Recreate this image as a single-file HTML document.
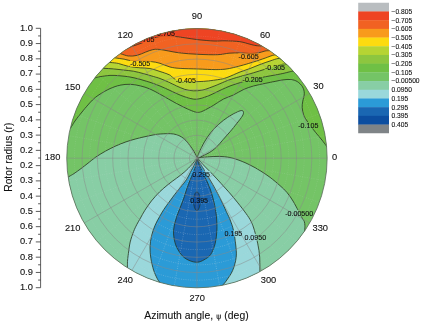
<!DOCTYPE html>
<html><head><meta charset="utf-8"><title>Rotor contour plot</title>
<style>html,body{margin:0;padding:0;background:#fff}body{width:421px;height:323px;overflow:hidden}</style></head>
<body>
<svg width="421" height="323" viewBox="0 0 421 323" style="display:block;font-family:'Liberation Sans',Arial,sans-serif" stroke-linejoin="round">
<rect width="421" height="323" fill="#fff"/>
<defs><clipPath id="disc"><ellipse cx="196.95" cy="158.20" rx="130.2" ry="129.6"/></clipPath></defs>
<g clip-path="url(#disc)">
<rect x="60" y="20" width="280" height="280" fill="#74c466"/>
<path d="M65.1 136.6C66.1 134.9 69.8 129.1 71.5 126.5C73.2 123.9 73.8 122.7 75.0 121.0C76.2 119.3 77.3 117.8 78.5 116.3C79.7 114.8 80.6 113.7 82.0 112.0C83.4 110.3 85.2 108.0 87.0 106.0C88.8 104.0 90.5 101.9 92.5 100.0C94.5 98.1 96.1 96.7 99.0 94.8C101.9 92.9 106.5 90.2 110.0 88.6C113.5 87.0 116.7 85.9 120.0 85.2C123.3 84.5 126.7 84.2 130.0 84.3C133.3 84.4 136.7 85.0 140.0 85.8C143.3 86.6 146.7 87.6 150.0 89.0C153.3 90.4 156.9 92.5 160.0 94.2C163.1 95.9 165.6 97.4 168.4 99.0C171.2 100.6 173.9 102.1 176.7 103.6C179.5 105.1 182.2 106.5 185.0 107.8C187.8 109.1 191.2 110.6 193.4 111.4C195.6 112.2 196.7 112.5 198.4 112.4C200.1 112.3 200.9 112.0 203.4 110.8C205.9 109.6 210.2 107.3 213.5 105.3C216.8 103.3 220.2 100.7 223.5 99.0C226.8 97.3 230.1 96.6 233.4 95.0C236.7 93.4 240.1 91.1 243.4 89.6C246.7 88.1 249.8 87.0 253.4 86.0C257.0 85.0 261.5 84.2 265.1 83.4C268.7 82.6 272.1 82.0 275.1 81.4C278.1 80.8 280.4 80.2 283.0 79.9C285.6 79.6 288.4 79.2 290.8 79.5C293.2 79.8 295.4 80.4 297.3 81.6C299.2 82.8 301.3 84.8 302.5 86.8C303.7 88.8 304.2 90.9 304.3 93.3C304.4 95.7 303.2 98.7 302.8 101.1C302.4 103.5 302.0 105.2 302.2 107.6C302.4 110.0 302.9 113.0 303.8 115.4C304.7 117.8 305.8 119.1 307.7 121.9C309.6 124.7 313.1 129.3 315.5 132.3C317.9 135.3 320.3 137.9 322.0 140.1C323.7 142.3 325.1 144.2 325.9 145.3C326.7 146.5 325.7 145.0 327.0 147.0C328.3 149.0 332.4 155.4 333.5 157.1L400.0 157.1 L 400 -40 L 0 -40 L 0.0 136.6 Z" fill="#6fc045" stroke="none"/>
<path d="M82.8 80.8C84.8 80.3 91.6 78.7 94.5 78.0C97.4 77.3 97.4 77.1 100.0 76.7C102.6 76.3 106.7 75.6 110.0 75.4C113.3 75.2 116.7 75.5 120.0 75.8C123.3 76.1 126.7 76.4 130.0 77.0C133.3 77.6 136.7 78.4 140.0 79.3C143.3 80.2 146.7 81.2 150.0 82.3C153.3 83.4 156.8 84.7 160.0 86.0C163.2 87.3 166.2 88.7 169.0 90.0C171.8 91.3 174.0 92.4 176.7 93.6C179.4 94.8 182.2 96.0 185.0 96.9C187.8 97.8 190.9 98.8 193.4 99.1C195.9 99.4 197.2 99.2 200.0 98.6C202.8 97.9 206.7 96.6 210.0 95.2C213.3 93.8 216.5 92.0 220.0 90.4C223.5 88.8 227.1 87.0 231.0 85.6C234.9 84.1 239.6 82.8 243.4 81.7C247.2 80.6 250.4 79.8 254.0 79.0C257.6 78.2 261.6 77.5 265.1 76.8C268.6 76.1 271.8 75.6 275.1 75.0C278.4 74.4 282.4 73.6 285.0 73.0C287.6 72.4 289.0 71.9 290.5 71.6C292.0 71.3 291.4 71.4 293.9 71.0C296.4 70.6 303.7 69.3 305.7 68.9L400.0 68.9 L 400 -40 L 0 -40 L 0.0 80.8 Z" fill="#8dc63f" stroke="none"/>
<path d="M91.6 67.6C93.6 67.7 100.0 68.1 103.6 68.3C107.2 68.5 110.1 68.6 113.4 68.9C116.7 69.2 120.1 69.6 123.4 70.0C126.7 70.4 130.1 70.6 133.4 71.2C136.7 71.8 140.1 72.7 143.4 73.6C146.8 74.5 150.7 75.7 153.5 76.5C156.3 77.3 157.5 77.6 160.0 78.5C162.5 79.4 165.6 80.8 168.4 82.0C171.2 83.2 173.9 84.8 176.7 86.0C179.5 87.2 182.2 88.6 185.0 89.4C187.8 90.2 190.6 90.7 193.4 90.8C196.2 90.9 199.0 90.7 201.8 90.2C204.6 89.7 207.0 88.8 210.0 87.7C213.0 86.6 216.7 85.1 220.0 83.7C223.3 82.3 226.1 80.9 230.0 79.6C233.9 78.2 239.5 76.7 243.4 75.6C247.3 74.5 249.8 73.9 253.4 72.8C257.0 71.7 261.5 70.3 265.1 69.2C268.7 68.1 272.0 67.1 275.0 66.3C278.0 65.5 281.0 64.5 283.0 64.2C285.0 63.9 284.3 64.2 287.0 64.3C289.7 64.4 297.0 64.5 299.0 64.6L400.0 64.6 L 400 -40 L 0 -40 L 0.0 67.6 Z" fill="#b6d433" stroke="none"/>
<path d="M98.1 60.9C100.1 61.1 106.6 62.0 110.0 62.4C113.4 62.8 115.4 62.8 118.5 63.5C121.6 64.2 124.9 65.7 128.5 66.4C132.1 67.1 136.3 67.5 139.9 67.8C143.5 68.1 146.6 67.9 149.9 68.5C153.2 69.1 156.7 70.4 160.0 71.5C163.3 72.6 166.8 73.5 169.6 74.9C172.4 76.3 172.3 78.6 177.0 79.7C181.7 80.8 191.2 81.6 198.0 81.6C204.8 81.6 212.8 80.4 217.6 79.7C222.4 79.0 223.3 78.8 227.0 77.5C230.7 76.2 236.2 73.5 240.0 72.0C243.8 70.5 246.7 69.8 250.0 68.5C253.3 67.2 256.7 65.8 260.0 64.5C263.3 63.2 267.0 62.0 270.0 61.0C273.0 60.0 276.0 58.8 278.0 58.5C280.0 58.2 279.4 58.8 282.0 59.5C284.6 60.2 291.7 61.9 293.6 62.4L400.0 62.4 L 400 -40 L 0 -40 L 0.0 60.9 Z" fill="#fddb10" stroke="none"/>
<path d="M102.8 56.1C104.8 56.3 111.1 57.3 114.7 57.8C118.3 58.3 121.2 58.7 124.2 59.2C127.2 59.8 129.8 60.8 132.8 61.1C135.8 61.5 138.9 61.2 142.0 61.3C145.1 61.4 148.3 61.3 151.3 61.6C154.3 61.9 156.9 62.4 160.0 63.3C163.1 64.2 166.7 66.2 170.0 67.0C173.3 67.8 175.3 68.1 180.0 68.4C184.7 68.7 192.6 68.8 198.4 69.0C204.2 69.2 210.7 69.6 215.1 69.6C219.5 69.6 221.9 69.5 225.0 69.2C228.1 68.9 230.3 68.3 233.4 67.6C236.5 66.9 240.1 65.9 243.4 65.0C246.7 64.1 249.8 63.1 253.4 62.0C257.0 60.9 261.7 59.3 265.1 58.1C268.5 56.9 271.9 55.4 274.0 55.0C276.1 54.6 275.2 55.3 277.8 56.0C280.4 56.7 287.5 58.5 289.4 59.1L400.0 59.1 L 400 -40 L 0 -40 L 0.0 56.1 Z" fill="#f89b1c" stroke="none"/>
<path d="M108.4 50.2C110.3 50.7 116.5 52.5 119.9 53.5C123.3 54.5 125.7 55.7 128.5 56.0C131.3 56.3 134.2 56.0 137.0 55.4C139.8 54.8 143.0 53.0 145.6 52.1C148.2 51.2 150.3 50.1 152.7 49.7C155.1 49.3 155.6 49.0 160.0 49.5C164.4 50.0 172.7 52.0 179.0 52.8C185.3 53.6 191.6 54.0 198.0 54.3C204.4 54.6 212.4 54.9 217.6 54.7C222.8 54.5 225.3 53.5 229.0 53.2C232.7 52.9 236.5 52.9 240.0 52.9C243.5 52.9 247.0 53.5 250.0 53.5C253.0 53.5 255.5 53.4 258.0 53.0C260.5 52.6 262.9 51.4 265.0 51.0C267.1 50.6 267.7 50.8 270.6 50.6C273.5 50.4 280.6 49.9 282.6 49.7L400.0 49.7 L 400 -40 L 0 -40 L 0.0 50.2 Z" fill="#f16222" stroke="none"/>
<path d="M116.4 52.9C118.3 52.2 124.8 49.4 127.5 48.3C130.2 47.2 130.8 46.8 132.5 46.2C134.2 45.6 135.7 45.2 137.4 44.6C139.2 44.0 141.1 43.2 143.0 42.5C144.9 41.8 146.8 41.0 148.6 40.3C150.4 39.5 152.3 38.6 154.0 38.0C155.7 37.4 157.0 36.9 159.0 36.6C161.0 36.3 163.4 36.0 166.0 36.0C168.6 36.0 171.2 36.1 174.4 36.4C177.6 36.7 181.1 37.2 185.0 37.8C188.9 38.3 193.2 39.2 198.0 39.7C202.8 40.2 209.5 40.8 214.0 41.0C218.5 41.2 220.7 40.7 225.0 40.8C229.3 40.9 235.8 41.1 240.0 41.7C244.2 42.3 247.3 43.6 250.0 44.2C252.7 44.9 254.1 45.3 256.0 45.6C257.9 45.9 258.5 45.8 261.4 46.0C264.3 46.2 271.4 46.7 273.4 46.9L400.0 46.9 L 400 -40 L 0 -40 L 0.0 52.9 Z" fill="#ee4423" stroke="none"/>
<path d="M58.3 182.9C60.0 181.9 66.0 178.4 68.6 176.8C71.2 175.2 71.9 175.0 74.0 173.6C76.1 172.2 78.7 170.3 81.0 168.6C83.3 166.9 85.5 165.1 88.0 163.2C90.5 161.3 92.9 159.1 95.9 157.0C98.9 154.9 102.6 152.8 105.9 150.9C109.2 149.1 112.6 147.4 115.9 145.9C119.2 144.4 122.6 143.1 125.9 141.9C129.2 140.7 132.8 139.7 135.8 138.9C138.8 138.1 141.3 137.5 144.0 136.9C146.7 136.3 149.3 135.7 152.0 135.2C154.7 134.7 156.6 134.2 160.2 134.0C163.8 133.8 169.7 133.3 173.6 134.0C177.5 134.7 180.5 136.0 183.6 138.4C186.7 140.8 189.7 145.2 192.0 148.4C194.3 151.6 196.3 156.1 197.2 157.6L197.6 157.8C199.2 157.7 203.9 157.1 207.5 156.9C211.1 156.7 215.2 156.3 219.0 156.4C222.8 156.5 226.5 156.8 230.0 157.5C233.5 158.2 236.7 159.3 240.0 160.6C243.3 161.8 246.7 163.3 250.0 165.0C253.3 166.7 256.7 168.5 260.0 170.6C263.3 172.7 266.7 174.8 270.0 177.3C273.3 179.8 277.2 183.1 280.0 185.6C282.8 188.1 284.8 189.9 287.0 192.5C289.2 195.1 291.1 197.9 293.0 201.0C294.9 204.1 296.9 208.1 298.4 210.9C299.9 213.7 301.0 216.0 302.0 217.8C303.0 219.6 303.8 220.2 304.3 221.5C304.8 222.8 304.8 224.0 304.9 225.6C305.0 227.2 304.8 228.1 304.7 231.0C304.6 233.9 304.3 241.0 304.3 243.0L 420 243.0 L 420 340 L -20 340 L -20 182.9 Z" fill="#88cea5" stroke="none"/>
<path d="M197.4 157.8C197.2 156.4 199.8 150.9 201.5 147.4C203.2 143.9 205.4 140.1 207.6 136.9C209.8 133.7 211.9 131.0 214.5 128.3C217.1 125.6 220.3 122.8 223.2 120.5C226.1 118.2 229.3 116.2 231.9 114.7C234.5 113.2 237.1 112.0 238.8 111.3C240.5 110.6 241.5 110.4 242.3 110.6C243.1 110.8 243.5 111.6 243.5 112.5C243.5 113.4 243.4 114.3 242.3 116.1C241.2 117.9 239.1 120.5 237.1 123.1C235.1 125.7 232.4 129.0 230.1 131.7C227.8 134.4 225.5 136.9 223.2 139.5C220.9 142.1 218.6 145.1 216.3 147.3C214.0 149.5 211.6 151.2 209.3 152.6C207.0 154.0 204.4 155.1 202.4 156.0C200.4 156.9 197.6 159.2 197.4 157.8Z" fill="#88cea5" stroke="none"/>
<path d="M127.1 279.0C127.1 277.0 127.3 270.2 127.4 267.0C127.5 263.8 127.4 262.2 127.6 260.0C127.8 257.8 128.0 256.5 128.4 253.5C128.8 250.5 129.3 245.7 130.2 242.0C131.1 238.3 132.5 234.4 133.6 231.5C134.7 228.6 135.7 226.8 136.8 224.5C138.0 222.2 139.2 220.3 140.5 218.0C141.8 215.7 142.9 213.4 144.7 210.6C146.5 207.8 148.9 204.1 151.4 201.0C153.9 197.9 156.9 194.6 159.7 191.8C162.5 189.1 165.3 186.8 168.1 184.5C170.9 182.2 173.6 180.4 176.4 178.3C179.2 176.2 182.3 173.9 184.8 171.7C187.3 169.5 189.6 167.1 191.5 165.0C193.4 162.9 195.1 160.5 196.0 159.4C196.9 158.3 197.0 158.4 197.2 158.2L197.6 158.2C197.9 158.5 198.1 158.9 199.2 160.2C200.3 161.5 202.2 163.6 204.4 166.0C206.7 168.4 209.9 171.5 212.7 174.4C215.5 177.3 218.3 180.4 221.1 183.5C223.9 186.6 226.6 189.5 229.4 192.7C232.2 195.9 235.0 199.3 237.8 202.8C240.6 206.3 243.9 210.5 246.1 213.6C248.3 216.7 249.7 218.7 251.1 221.5C252.5 224.3 253.4 226.9 254.5 230.6C255.6 234.3 256.9 239.5 257.8 243.9C258.7 248.3 259.4 252.6 259.7 257.2C260.0 261.8 259.8 267.1 259.9 271.5C260.0 275.9 260.0 281.5 260.1 283.5L 420 283.5 L 420 340 L -20 340 L -20 279.0 Z" fill="#9ad8db" stroke="none"/>
<path d="M165.6 292.1C164.6 290.4 160.7 284.2 159.3 281.9C157.9 279.6 158.1 280.5 157.2 278.5C156.2 276.5 154.6 273.4 153.6 270.1C152.6 266.8 151.5 262.4 150.9 258.6C150.3 254.8 149.9 250.9 150.0 247.1C150.1 243.3 150.7 239.6 151.5 236.0C152.3 232.4 153.7 228.7 155.0 225.5C156.3 222.3 158.0 219.5 159.5 216.8C161.0 214.1 162.4 211.6 164.0 209.2C165.6 206.8 167.2 204.6 169.0 202.2C170.8 199.8 172.6 197.2 174.5 194.7C176.4 192.2 178.4 189.8 180.5 187.2C182.6 184.6 185.1 181.9 186.8 179.2C188.6 176.5 189.7 173.4 191.0 171.0C192.3 168.6 193.5 166.6 194.5 164.5C195.5 162.4 196.8 159.4 197.2 158.4L197.6 158.4C197.8 158.9 197.8 159.7 198.8 161.5C199.8 163.3 202.1 166.6 203.6 169.0C205.1 171.4 206.2 173.4 207.7 176.0C209.2 178.6 211.0 181.5 212.7 184.4C214.4 187.3 216.0 190.4 217.7 193.6C219.4 196.8 221.2 200.4 222.7 203.6C224.2 206.8 225.7 210.1 226.9 212.8C228.2 215.5 229.1 217.1 230.2 220.0C231.3 222.9 232.5 226.0 233.4 230.0C234.3 234.0 235.1 239.4 235.6 243.9C236.1 248.4 236.7 252.8 236.2 257.2C235.7 261.6 234.3 266.6 232.6 270.6C230.9 274.6 227.8 278.6 226.0 281.2C224.2 283.8 223.5 284.1 221.5 286.5C219.5 288.9 215.0 294.1 213.7 295.6L 420 295.6 L 420 340 L -20 340 L -20 292.1 Z" fill="#2b9bd7" stroke="none"/>
<path d="M197.3 159.5C196.9 159.5 196.8 162.2 196.3 164.0C195.8 165.8 195.0 168.1 194.3 170.0C193.6 171.9 192.7 173.8 192.0 175.5C191.3 177.2 190.8 178.3 189.9 180.5C189.1 182.7 187.8 185.7 186.9 188.4C186.0 191.1 185.2 193.9 184.3 196.7C183.4 199.5 182.3 202.2 181.2 205.0C180.1 207.8 178.9 210.6 177.9 213.4C176.9 216.2 175.9 219.0 175.2 221.8C174.5 224.6 173.8 227.3 173.6 230.0C173.4 232.7 173.5 235.2 174.0 238.0C174.5 240.8 175.2 244.1 176.6 247.1C178.0 250.1 180.3 253.7 182.5 256.0C184.7 258.3 187.5 259.8 190.0 260.8C192.5 261.8 195.2 262.4 197.5 262.2C199.8 262.0 201.8 261.1 204.0 259.8C206.2 258.5 208.7 257.3 210.6 254.6C212.5 251.9 214.1 247.6 215.2 243.5C216.2 239.4 216.7 234.4 216.9 230.0C217.1 225.6 216.8 220.8 216.5 217.0C216.2 213.2 215.6 210.2 215.0 207.0C214.4 203.8 213.6 200.6 212.8 197.5C212.0 194.4 211.0 191.2 210.0 188.4C209.0 185.6 207.6 182.7 206.6 180.5C205.6 178.3 204.8 177.2 204.0 175.5C203.2 173.8 202.3 171.9 201.5 170.0C200.7 168.1 199.7 165.8 199.0 164.0C198.3 162.2 197.8 159.5 197.3 159.5Z" fill="#1a67b2" stroke="none"/>
<path d="M196.9 192.0C197.5 192.0 198.1 192.4 198.6 193.2C199.1 194.0 199.5 195.3 199.8 196.6C200.1 197.9 200.2 199.7 200.2 201.2C200.2 202.7 200.1 204.5 199.8 205.8C199.5 207.1 199.1 208.4 198.6 209.2C198.1 210.0 197.5 210.4 196.9 210.4C196.3 210.4 195.7 210.0 195.2 209.2C194.7 208.4 194.3 207.1 194.0 205.8C193.7 204.5 193.6 202.7 193.6 201.2C193.6 199.7 193.7 197.9 194.0 196.6C194.3 195.3 194.7 194.0 195.2 193.2C195.7 192.4 196.3 192.0 196.9 192.0Z" fill="#0c4ea0" stroke="none"/>
<mask id="lm" maskUnits="userSpaceOnUse" x="0" y="0" width="421" height="323"><rect width="421" height="323" fill="#fff"/>
<rect x="154.4" y="30.4" width="20.7" height="6.4" fill="#000"/>
<rect x="133.9" y="36.6" width="20.7" height="6.4" fill="#000"/>
<rect x="238.2" y="53.4" width="20.7" height="6.4" fill="#000"/>
<rect x="129.8" y="60.3" width="20.7" height="6.4" fill="#000"/>
<rect x="175.4" y="77.0" width="20.7" height="6.4" fill="#000"/>
<rect x="264.6" y="64.5" width="20.7" height="6.4" fill="#000"/>
<rect x="242.2" y="76.0" width="20.7" height="6.4" fill="#000"/>
<rect x="297.9" y="122.1" width="20.7" height="6.4" fill="#000"/>
<rect x="284.9" y="209.9" width="28.6" height="6.4" fill="#000"/>
<rect x="244.1" y="234.1" width="22.3" height="6.4" fill="#000"/>
<rect x="224.2" y="230.3" width="18.4" height="6.4" fill="#000"/>
<rect x="192.0" y="170.8" width="18.4" height="6.4" fill="#000"/>
<rect x="190.0" y="197.4" width="18.4" height="6.4" fill="#000"/>
</mask>
<g mask="url(#lm)">
<path d="M65.1 136.6C66.1 134.9 69.8 129.1 71.5 126.5C73.2 123.9 73.8 122.7 75.0 121.0C76.2 119.3 77.3 117.8 78.5 116.3C79.7 114.8 80.6 113.7 82.0 112.0C83.4 110.3 85.2 108.0 87.0 106.0C88.8 104.0 90.5 101.9 92.5 100.0C94.5 98.1 96.1 96.7 99.0 94.8C101.9 92.9 106.5 90.2 110.0 88.6C113.5 87.0 116.7 85.9 120.0 85.2C123.3 84.5 126.7 84.2 130.0 84.3C133.3 84.4 136.7 85.0 140.0 85.8C143.3 86.6 146.7 87.6 150.0 89.0C153.3 90.4 156.9 92.5 160.0 94.2C163.1 95.9 165.6 97.4 168.4 99.0C171.2 100.6 173.9 102.1 176.7 103.6C179.5 105.1 182.2 106.5 185.0 107.8C187.8 109.1 191.2 110.6 193.4 111.4C195.6 112.2 196.7 112.5 198.4 112.4C200.1 112.3 200.9 112.0 203.4 110.8C205.9 109.6 210.2 107.3 213.5 105.3C216.8 103.3 220.2 100.7 223.5 99.0C226.8 97.3 230.1 96.6 233.4 95.0C236.7 93.4 240.1 91.1 243.4 89.6C246.7 88.1 249.8 87.0 253.4 86.0C257.0 85.0 261.5 84.2 265.1 83.4C268.7 82.6 272.1 82.0 275.1 81.4C278.1 80.8 280.4 80.2 283.0 79.9C285.6 79.6 288.4 79.2 290.8 79.5C293.2 79.8 295.4 80.4 297.3 81.6C299.2 82.8 301.3 84.8 302.5 86.8C303.7 88.8 304.2 90.9 304.3 93.3C304.4 95.7 303.2 98.7 302.8 101.1C302.4 103.5 302.0 105.2 302.2 107.6C302.4 110.0 302.9 113.0 303.8 115.4C304.7 117.8 305.8 119.1 307.7 121.9C309.6 124.7 313.1 129.3 315.5 132.3C317.9 135.3 320.3 137.9 322.0 140.1C323.7 142.3 325.1 144.2 325.9 145.3C326.7 146.5 325.7 145.0 327.0 147.0C328.3 149.0 332.4 155.4 333.5 157.1" fill="none" stroke="#27331f" stroke-width="0.80"/>
<path d="M82.8 80.8C84.8 80.3 91.6 78.7 94.5 78.0C97.4 77.3 97.4 77.1 100.0 76.7C102.6 76.3 106.7 75.6 110.0 75.4C113.3 75.2 116.7 75.5 120.0 75.8C123.3 76.1 126.7 76.4 130.0 77.0C133.3 77.6 136.7 78.4 140.0 79.3C143.3 80.2 146.7 81.2 150.0 82.3C153.3 83.4 156.8 84.7 160.0 86.0C163.2 87.3 166.2 88.7 169.0 90.0C171.8 91.3 174.0 92.4 176.7 93.6C179.4 94.8 182.2 96.0 185.0 96.9C187.8 97.8 190.9 98.8 193.4 99.1C195.9 99.4 197.2 99.2 200.0 98.6C202.8 97.9 206.7 96.6 210.0 95.2C213.3 93.8 216.5 92.0 220.0 90.4C223.5 88.8 227.1 87.0 231.0 85.6C234.9 84.1 239.6 82.8 243.4 81.7C247.2 80.6 250.4 79.8 254.0 79.0C257.6 78.2 261.6 77.5 265.1 76.8C268.6 76.1 271.8 75.6 275.1 75.0C278.4 74.4 282.4 73.6 285.0 73.0C287.6 72.4 289.0 71.9 290.5 71.6C292.0 71.3 291.4 71.4 293.9 71.0C296.4 70.6 303.7 69.3 305.7 68.9" fill="none" stroke="#27331f" stroke-width="0.80"/>
<path d="M91.6 67.6C93.6 67.7 100.0 68.1 103.6 68.3C107.2 68.5 110.1 68.6 113.4 68.9C116.7 69.2 120.1 69.6 123.4 70.0C126.7 70.4 130.1 70.6 133.4 71.2C136.7 71.8 140.1 72.7 143.4 73.6C146.8 74.5 150.7 75.7 153.5 76.5C156.3 77.3 157.5 77.6 160.0 78.5C162.5 79.4 165.6 80.8 168.4 82.0C171.2 83.2 173.9 84.8 176.7 86.0C179.5 87.2 182.2 88.6 185.0 89.4C187.8 90.2 190.6 90.7 193.4 90.8C196.2 90.9 199.0 90.7 201.8 90.2C204.6 89.7 207.0 88.8 210.0 87.7C213.0 86.6 216.7 85.1 220.0 83.7C223.3 82.3 226.1 80.9 230.0 79.6C233.9 78.2 239.5 76.7 243.4 75.6C247.3 74.5 249.8 73.9 253.4 72.8C257.0 71.7 261.5 70.3 265.1 69.2C268.7 68.1 272.0 67.1 275.0 66.3C278.0 65.5 281.0 64.5 283.0 64.2C285.0 63.9 284.3 64.2 287.0 64.3C289.7 64.4 297.0 64.5 299.0 64.6" fill="none" stroke="#27331f" stroke-width="0.80"/>
<path d="M98.1 60.9C100.1 61.1 106.6 62.0 110.0 62.4C113.4 62.8 115.4 62.8 118.5 63.5C121.6 64.2 124.9 65.7 128.5 66.4C132.1 67.1 136.3 67.5 139.9 67.8C143.5 68.1 146.6 67.9 149.9 68.5C153.2 69.1 156.7 70.4 160.0 71.5C163.3 72.6 166.8 73.5 169.6 74.9C172.4 76.3 172.3 78.6 177.0 79.7C181.7 80.8 191.2 81.6 198.0 81.6C204.8 81.6 212.8 80.4 217.6 79.7C222.4 79.0 223.3 78.8 227.0 77.5C230.7 76.2 236.2 73.5 240.0 72.0C243.8 70.5 246.7 69.8 250.0 68.5C253.3 67.2 256.7 65.8 260.0 64.5C263.3 63.2 267.0 62.0 270.0 61.0C273.0 60.0 276.0 58.8 278.0 58.5C280.0 58.2 279.4 58.8 282.0 59.5C284.6 60.2 291.7 61.9 293.6 62.4" fill="none" stroke="#27331f" stroke-width="0.80"/>
<path d="M102.8 56.1C104.8 56.3 111.1 57.3 114.7 57.8C118.3 58.3 121.2 58.7 124.2 59.2C127.2 59.8 129.8 60.8 132.8 61.1C135.8 61.5 138.9 61.2 142.0 61.3C145.1 61.4 148.3 61.3 151.3 61.6C154.3 61.9 156.9 62.4 160.0 63.3C163.1 64.2 166.7 66.2 170.0 67.0C173.3 67.8 175.3 68.1 180.0 68.4C184.7 68.7 192.6 68.8 198.4 69.0C204.2 69.2 210.7 69.6 215.1 69.6C219.5 69.6 221.9 69.5 225.0 69.2C228.1 68.9 230.3 68.3 233.4 67.6C236.5 66.9 240.1 65.9 243.4 65.0C246.7 64.1 249.8 63.1 253.4 62.0C257.0 60.9 261.7 59.3 265.1 58.1C268.5 56.9 271.9 55.4 274.0 55.0C276.1 54.6 275.2 55.3 277.8 56.0C280.4 56.7 287.5 58.5 289.4 59.1" fill="none" stroke="#27331f" stroke-width="0.80"/>
<path d="M108.4 50.2C110.3 50.7 116.5 52.5 119.9 53.5C123.3 54.5 125.7 55.7 128.5 56.0C131.3 56.3 134.2 56.0 137.0 55.4C139.8 54.8 143.0 53.0 145.6 52.1C148.2 51.2 150.3 50.1 152.7 49.7C155.1 49.3 155.6 49.0 160.0 49.5C164.4 50.0 172.7 52.0 179.0 52.8C185.3 53.6 191.6 54.0 198.0 54.3C204.4 54.6 212.4 54.9 217.6 54.7C222.8 54.5 225.3 53.5 229.0 53.2C232.7 52.9 236.5 52.9 240.0 52.9C243.5 52.9 247.0 53.5 250.0 53.5C253.0 53.5 255.5 53.4 258.0 53.0C260.5 52.6 262.9 51.4 265.0 51.0C267.1 50.6 267.7 50.8 270.6 50.6C273.5 50.4 280.6 49.9 282.6 49.7" fill="none" stroke="#27331f" stroke-width="0.80"/>
<path d="M116.4 52.9C118.3 52.2 124.8 49.4 127.5 48.3C130.2 47.2 130.8 46.8 132.5 46.2C134.2 45.6 135.7 45.2 137.4 44.6C139.2 44.0 141.1 43.2 143.0 42.5C144.9 41.8 146.8 41.0 148.6 40.3C150.4 39.5 152.3 38.6 154.0 38.0C155.7 37.4 157.0 36.9 159.0 36.6C161.0 36.3 163.4 36.0 166.0 36.0C168.6 36.0 171.2 36.1 174.4 36.4C177.6 36.7 181.1 37.2 185.0 37.8C188.9 38.3 193.2 39.2 198.0 39.7C202.8 40.2 209.5 40.8 214.0 41.0C218.5 41.2 220.7 40.7 225.0 40.8C229.3 40.9 235.8 41.1 240.0 41.7C244.2 42.3 247.3 43.6 250.0 44.2C252.7 44.9 254.1 45.3 256.0 45.6C257.9 45.9 258.5 45.8 261.4 46.0C264.3 46.2 271.4 46.7 273.4 46.9" fill="none" stroke="#27331f" stroke-width="0.80"/>
<path d="M58.3 182.9C60.0 181.9 66.0 178.4 68.6 176.8C71.2 175.2 71.9 175.0 74.0 173.6C76.1 172.2 78.7 170.3 81.0 168.6C83.3 166.9 85.5 165.1 88.0 163.2C90.5 161.3 92.9 159.1 95.9 157.0C98.9 154.9 102.6 152.8 105.9 150.9C109.2 149.1 112.6 147.4 115.9 145.9C119.2 144.4 122.6 143.1 125.9 141.9C129.2 140.7 132.8 139.7 135.8 138.9C138.8 138.1 141.3 137.5 144.0 136.9C146.7 136.3 149.3 135.7 152.0 135.2C154.7 134.7 156.6 134.2 160.2 134.0C163.8 133.8 169.7 133.3 173.6 134.0C177.5 134.7 180.5 136.0 183.6 138.4C186.7 140.8 189.7 145.2 192.0 148.4C194.3 151.6 196.3 156.1 197.2 157.6 L197.6 157.8 C199.2 157.7 203.9 157.1 207.5 156.9C211.1 156.7 215.2 156.3 219.0 156.4C222.8 156.5 226.5 156.8 230.0 157.5C233.5 158.2 236.7 159.3 240.0 160.6C243.3 161.8 246.7 163.3 250.0 165.0C253.3 166.7 256.7 168.5 260.0 170.6C263.3 172.7 266.7 174.8 270.0 177.3C273.3 179.8 277.2 183.1 280.0 185.6C282.8 188.1 284.8 189.9 287.0 192.5C289.2 195.1 291.1 197.9 293.0 201.0C294.9 204.1 296.9 208.1 298.4 210.9C299.9 213.7 301.0 216.0 302.0 217.8C303.0 219.6 303.8 220.2 304.3 221.5C304.8 222.8 304.8 224.0 304.9 225.6C305.0 227.2 304.8 228.1 304.7 231.0C304.6 233.9 304.3 241.0 304.3 243.0" fill="none" stroke="#27331f" stroke-width="0.80"/>
<path d="M197.4 157.8C197.2 156.4 199.8 150.9 201.5 147.4C203.2 143.9 205.4 140.1 207.6 136.9C209.8 133.7 211.9 131.0 214.5 128.3C217.1 125.6 220.3 122.8 223.2 120.5C226.1 118.2 229.3 116.2 231.9 114.7C234.5 113.2 237.1 112.0 238.8 111.3C240.5 110.6 241.5 110.4 242.3 110.6C243.1 110.8 243.5 111.6 243.5 112.5C243.5 113.4 243.4 114.3 242.3 116.1C241.2 117.9 239.1 120.5 237.1 123.1C235.1 125.7 232.4 129.0 230.1 131.7C227.8 134.4 225.5 136.9 223.2 139.5C220.9 142.1 218.6 145.1 216.3 147.3C214.0 149.5 211.6 151.2 209.3 152.6C207.0 154.0 204.4 155.1 202.4 156.0C200.4 156.9 197.6 159.2 197.4 157.8Z" fill="none" stroke="#27331f" stroke-width="0.80"/>
<path d="M127.1 279.0C127.1 277.0 127.3 270.2 127.4 267.0C127.5 263.8 127.4 262.2 127.6 260.0C127.8 257.8 128.0 256.5 128.4 253.5C128.8 250.5 129.3 245.7 130.2 242.0C131.1 238.3 132.5 234.4 133.6 231.5C134.7 228.6 135.7 226.8 136.8 224.5C138.0 222.2 139.2 220.3 140.5 218.0C141.8 215.7 142.9 213.4 144.7 210.6C146.5 207.8 148.9 204.1 151.4 201.0C153.9 197.9 156.9 194.6 159.7 191.8C162.5 189.1 165.3 186.8 168.1 184.5C170.9 182.2 173.6 180.4 176.4 178.3C179.2 176.2 182.3 173.9 184.8 171.7C187.3 169.5 189.6 167.1 191.5 165.0C193.4 162.9 195.1 160.5 196.0 159.4C196.9 158.3 197.0 158.4 197.2 158.2 L197.6 158.2 C197.9 158.5 198.1 158.9 199.2 160.2C200.3 161.5 202.2 163.6 204.4 166.0C206.7 168.4 209.9 171.5 212.7 174.4C215.5 177.3 218.3 180.4 221.1 183.5C223.9 186.6 226.6 189.5 229.4 192.7C232.2 195.9 235.0 199.3 237.8 202.8C240.6 206.3 243.9 210.5 246.1 213.6C248.3 216.7 249.7 218.7 251.1 221.5C252.5 224.3 253.4 226.9 254.5 230.6C255.6 234.3 256.9 239.5 257.8 243.9C258.7 248.3 259.4 252.6 259.7 257.2C260.0 261.8 259.8 267.1 259.9 271.5C260.0 275.9 260.0 281.5 260.1 283.5" fill="none" stroke="#27331f" stroke-width="0.80"/>
<path d="M165.6 292.1C164.6 290.4 160.7 284.2 159.3 281.9C157.9 279.6 158.1 280.5 157.2 278.5C156.2 276.5 154.6 273.4 153.6 270.1C152.6 266.8 151.5 262.4 150.9 258.6C150.3 254.8 149.9 250.9 150.0 247.1C150.1 243.3 150.7 239.6 151.5 236.0C152.3 232.4 153.7 228.7 155.0 225.5C156.3 222.3 158.0 219.5 159.5 216.8C161.0 214.1 162.4 211.6 164.0 209.2C165.6 206.8 167.2 204.6 169.0 202.2C170.8 199.8 172.6 197.2 174.5 194.7C176.4 192.2 178.4 189.8 180.5 187.2C182.6 184.6 185.1 181.9 186.8 179.2C188.6 176.5 189.7 173.4 191.0 171.0C192.3 168.6 193.5 166.6 194.5 164.5C195.5 162.4 196.8 159.4 197.2 158.4 L197.6 158.4 C197.8 158.9 197.8 159.7 198.8 161.5C199.8 163.3 202.1 166.6 203.6 169.0C205.1 171.4 206.2 173.4 207.7 176.0C209.2 178.6 211.0 181.5 212.7 184.4C214.4 187.3 216.0 190.4 217.7 193.6C219.4 196.8 221.2 200.4 222.7 203.6C224.2 206.8 225.7 210.1 226.9 212.8C228.2 215.5 229.1 217.1 230.2 220.0C231.3 222.9 232.5 226.0 233.4 230.0C234.3 234.0 235.1 239.4 235.6 243.9C236.1 248.4 236.7 252.8 236.2 257.2C235.7 261.6 234.3 266.6 232.6 270.6C230.9 274.6 227.8 278.6 226.0 281.2C224.2 283.8 223.5 284.1 221.5 286.5C219.5 288.9 215.0 294.1 213.7 295.6" fill="none" stroke="#27331f" stroke-width="0.80"/>
<path d="M197.3 159.5C196.9 159.5 196.8 162.2 196.3 164.0C195.8 165.8 195.0 168.1 194.3 170.0C193.6 171.9 192.7 173.8 192.0 175.5C191.3 177.2 190.8 178.3 189.9 180.5C189.1 182.7 187.8 185.7 186.9 188.4C186.0 191.1 185.2 193.9 184.3 196.7C183.4 199.5 182.3 202.2 181.2 205.0C180.1 207.8 178.9 210.6 177.9 213.4C176.9 216.2 175.9 219.0 175.2 221.8C174.5 224.6 173.8 227.3 173.6 230.0C173.4 232.7 173.5 235.2 174.0 238.0C174.5 240.8 175.2 244.1 176.6 247.1C178.0 250.1 180.3 253.7 182.5 256.0C184.7 258.3 187.5 259.8 190.0 260.8C192.5 261.8 195.2 262.4 197.5 262.2C199.8 262.0 201.8 261.1 204.0 259.8C206.2 258.5 208.7 257.3 210.6 254.6C212.5 251.9 214.1 247.6 215.2 243.5C216.2 239.4 216.7 234.4 216.9 230.0C217.1 225.6 216.8 220.8 216.5 217.0C216.2 213.2 215.6 210.2 215.0 207.0C214.4 203.8 213.6 200.6 212.8 197.5C212.0 194.4 211.0 191.2 210.0 188.4C209.0 185.6 207.6 182.7 206.6 180.5C205.6 178.3 204.8 177.2 204.0 175.5C203.2 173.8 202.3 171.9 201.5 170.0C200.7 168.1 199.7 165.8 199.0 164.0C198.3 162.2 197.8 159.5 197.3 159.5Z" fill="none" stroke="#27331f" stroke-width="0.80"/>
<path d="M196.9 192.0C197.5 192.0 198.1 192.4 198.6 193.2C199.1 194.0 199.5 195.3 199.8 196.6C200.1 197.9 200.2 199.7 200.2 201.2C200.2 202.7 200.1 204.5 199.8 205.8C199.5 207.1 199.1 208.4 198.6 209.2C198.1 210.0 197.5 210.4 196.9 210.4C196.3 210.4 195.7 210.0 195.2 209.2C194.7 208.4 194.3 207.1 194.0 205.8C193.7 204.5 193.6 202.7 193.6 201.2C193.6 199.7 193.7 197.9 194.0 196.6C194.3 195.3 194.7 194.0 195.2 193.2C195.7 192.4 196.3 192.0 196.9 192.0Z" fill="none" stroke="#27331f" stroke-width="0.60"/>
</g>
<ellipse cx="196.95" cy="158.20" rx="15.32" ry="15.25" fill="none" stroke="#e4ecf2" stroke-width="0.5" stroke-dasharray="1 1.3" opacity="0.25"/>
<ellipse cx="196.95" cy="158.20" rx="30.64" ry="30.49" fill="none" stroke="#e4ecf2" stroke-width="0.5" stroke-dasharray="1 1.3" opacity="0.25"/>
<ellipse cx="196.95" cy="158.20" rx="45.95" ry="45.74" fill="none" stroke="#e4ecf2" stroke-width="0.5" stroke-dasharray="1 1.3" opacity="0.25"/>
<ellipse cx="196.95" cy="158.20" rx="61.27" ry="60.99" fill="none" stroke="#e4ecf2" stroke-width="0.5" stroke-dasharray="1 1.3" opacity="0.25"/>
<ellipse cx="196.95" cy="158.20" rx="76.59" ry="76.24" fill="none" stroke="#e4ecf2" stroke-width="0.5" stroke-dasharray="1 1.3" opacity="0.25"/>
<ellipse cx="196.95" cy="158.20" rx="91.91" ry="91.48" fill="none" stroke="#e4ecf2" stroke-width="0.5" stroke-dasharray="1 1.3" opacity="0.25"/>
<ellipse cx="196.95" cy="158.20" rx="107.22" ry="106.73" fill="none" stroke="#e4ecf2" stroke-width="0.5" stroke-dasharray="1 1.3" opacity="0.25"/>
<ellipse cx="196.95" cy="158.20" rx="122.54" ry="121.98" fill="none" stroke="#e4ecf2" stroke-width="0.5" stroke-dasharray="1 1.3" opacity="0.25"/>
<line x1="204.8" y1="156.8" x2="325.17" y2="135.70" stroke="#e4ecf2" stroke-width="0.5" stroke-dasharray="1 1.3" opacity="0.25"/>
<line x1="204.5" y1="155.5" x2="319.30" y2="113.87" stroke="#e4ecf2" stroke-width="0.5" stroke-dasharray="1 1.3" opacity="0.25"/>
<line x1="203.1" y1="153.1" x2="296.69" y2="74.89" stroke="#e4ecf2" stroke-width="0.5" stroke-dasharray="1 1.3" opacity="0.25"/>
<line x1="202.1" y1="152.1" x2="280.64" y2="58.92" stroke="#e4ecf2" stroke-width="0.5" stroke-dasharray="1 1.3" opacity="0.25"/>
<line x1="199.7" y1="150.7" x2="241.48" y2="36.42" stroke="#e4ecf2" stroke-width="0.5" stroke-dasharray="1 1.3" opacity="0.25"/>
<line x1="198.3" y1="150.3" x2="219.56" y2="30.57" stroke="#e4ecf2" stroke-width="0.5" stroke-dasharray="1 1.3" opacity="0.25"/>
<line x1="195.6" y1="150.3" x2="174.34" y2="30.57" stroke="#e4ecf2" stroke-width="0.5" stroke-dasharray="1 1.3" opacity="0.25"/>
<line x1="194.2" y1="150.7" x2="152.42" y2="36.42" stroke="#e4ecf2" stroke-width="0.5" stroke-dasharray="1 1.3" opacity="0.25"/>
<line x1="191.8" y1="152.1" x2="113.26" y2="58.92" stroke="#e4ecf2" stroke-width="0.5" stroke-dasharray="1 1.3" opacity="0.25"/>
<line x1="190.8" y1="153.1" x2="97.21" y2="74.89" stroke="#e4ecf2" stroke-width="0.5" stroke-dasharray="1 1.3" opacity="0.25"/>
<line x1="189.4" y1="155.5" x2="74.60" y2="113.87" stroke="#e4ecf2" stroke-width="0.5" stroke-dasharray="1 1.3" opacity="0.25"/>
<line x1="189.1" y1="156.8" x2="68.73" y2="135.70" stroke="#e4ecf2" stroke-width="0.5" stroke-dasharray="1 1.3" opacity="0.25"/>
<line x1="189.1" y1="159.6" x2="68.73" y2="180.70" stroke="#e4ecf2" stroke-width="0.5" stroke-dasharray="1 1.3" opacity="0.25"/>
<line x1="189.4" y1="160.9" x2="74.60" y2="202.53" stroke="#e4ecf2" stroke-width="0.5" stroke-dasharray="1 1.3" opacity="0.25"/>
<line x1="190.8" y1="163.3" x2="97.21" y2="241.51" stroke="#e4ecf2" stroke-width="0.5" stroke-dasharray="1 1.3" opacity="0.25"/>
<line x1="191.8" y1="164.3" x2="113.26" y2="257.48" stroke="#e4ecf2" stroke-width="0.5" stroke-dasharray="1 1.3" opacity="0.25"/>
<line x1="194.2" y1="165.7" x2="152.42" y2="279.98" stroke="#e4ecf2" stroke-width="0.5" stroke-dasharray="1 1.3" opacity="0.25"/>
<line x1="195.6" y1="166.1" x2="174.34" y2="285.83" stroke="#e4ecf2" stroke-width="0.5" stroke-dasharray="1 1.3" opacity="0.25"/>
<line x1="198.3" y1="166.1" x2="219.56" y2="285.83" stroke="#e4ecf2" stroke-width="0.5" stroke-dasharray="1 1.3" opacity="0.25"/>
<line x1="199.7" y1="165.7" x2="241.48" y2="279.98" stroke="#e4ecf2" stroke-width="0.5" stroke-dasharray="1 1.3" opacity="0.25"/>
<line x1="202.1" y1="164.3" x2="280.64" y2="257.48" stroke="#e4ecf2" stroke-width="0.5" stroke-dasharray="1 1.3" opacity="0.25"/>
<line x1="203.1" y1="163.3" x2="296.69" y2="241.51" stroke="#e4ecf2" stroke-width="0.5" stroke-dasharray="1 1.3" opacity="0.25"/>
<line x1="204.5" y1="160.9" x2="319.30" y2="202.53" stroke="#e4ecf2" stroke-width="0.5" stroke-dasharray="1 1.3" opacity="0.25"/>
<line x1="204.8" y1="159.6" x2="325.17" y2="180.70" stroke="#e4ecf2" stroke-width="0.5" stroke-dasharray="1 1.3" opacity="0.25"/>
<clipPath id="bluec"><path d="M165.6 292.1C164.6 290.4 160.7 284.2 159.3 281.9C157.9 279.6 158.1 280.5 157.2 278.5C156.2 276.5 154.6 273.4 153.6 270.1C152.6 266.8 151.5 262.4 150.9 258.6C150.3 254.8 149.9 250.9 150.0 247.1C150.1 243.3 150.7 239.6 151.5 236.0C152.3 232.4 153.7 228.7 155.0 225.5C156.3 222.3 158.0 219.5 159.5 216.8C161.0 214.1 162.4 211.6 164.0 209.2C165.6 206.8 167.2 204.6 169.0 202.2C170.8 199.8 172.6 197.2 174.5 194.7C176.4 192.2 178.4 189.8 180.5 187.2C182.6 184.6 185.1 181.9 186.8 179.2C188.6 176.5 189.7 173.4 191.0 171.0C192.3 168.6 193.5 166.6 194.5 164.5C195.5 162.4 196.8 159.4 197.2 158.4L197.6 158.4C197.8 158.9 197.8 159.7 198.8 161.5C199.8 163.3 202.1 166.6 203.6 169.0C205.1 171.4 206.2 173.4 207.7 176.0C209.2 178.6 211.0 181.5 212.7 184.4C214.4 187.3 216.0 190.4 217.7 193.6C219.4 196.8 221.2 200.4 222.7 203.6C224.2 206.8 225.7 210.1 226.9 212.8C228.2 215.5 229.1 217.1 230.2 220.0C231.3 222.9 232.5 226.0 233.4 230.0C234.3 234.0 235.1 239.4 235.6 243.9C236.1 248.4 236.7 252.8 236.2 257.2C235.7 261.6 234.3 266.6 232.6 270.6C230.9 274.6 227.8 278.6 226.0 281.2C224.2 283.8 223.5 284.1 221.5 286.5C219.5 288.9 215.0 294.1 213.7 295.6L 420 295.6 L 420 340 L -20 340 L -20 292.1 Z"/></clipPath>
<g clip-path="url(#bluec)">
<ellipse cx="196.95" cy="158.20" rx="15.32" ry="15.25" fill="none" stroke="#e4ecf2" stroke-width="0.5" stroke-dasharray="1 1.3" opacity="0.3"/>
<ellipse cx="196.95" cy="158.20" rx="30.64" ry="30.49" fill="none" stroke="#e4ecf2" stroke-width="0.5" stroke-dasharray="1 1.3" opacity="0.3"/>
<ellipse cx="196.95" cy="158.20" rx="45.95" ry="45.74" fill="none" stroke="#e4ecf2" stroke-width="0.5" stroke-dasharray="1 1.3" opacity="0.3"/>
<ellipse cx="196.95" cy="158.20" rx="61.27" ry="60.99" fill="none" stroke="#e4ecf2" stroke-width="0.5" stroke-dasharray="1 1.3" opacity="0.3"/>
<ellipse cx="196.95" cy="158.20" rx="76.59" ry="76.24" fill="none" stroke="#e4ecf2" stroke-width="0.5" stroke-dasharray="1 1.3" opacity="0.3"/>
<ellipse cx="196.95" cy="158.20" rx="91.91" ry="91.48" fill="none" stroke="#e4ecf2" stroke-width="0.5" stroke-dasharray="1 1.3" opacity="0.3"/>
<ellipse cx="196.95" cy="158.20" rx="107.22" ry="106.73" fill="none" stroke="#e4ecf2" stroke-width="0.5" stroke-dasharray="1 1.3" opacity="0.3"/>
<ellipse cx="196.95" cy="158.20" rx="122.54" ry="121.98" fill="none" stroke="#e4ecf2" stroke-width="0.5" stroke-dasharray="1 1.3" opacity="0.3"/>
<line x1="189.1" y1="159.6" x2="68.73" y2="180.70" stroke="#e4ecf2" stroke-width="0.5" stroke-dasharray="1 1.3" opacity="0.3"/>
<line x1="189.4" y1="160.9" x2="74.60" y2="202.53" stroke="#e4ecf2" stroke-width="0.5" stroke-dasharray="1 1.3" opacity="0.3"/>
<line x1="190.8" y1="163.3" x2="97.21" y2="241.51" stroke="#e4ecf2" stroke-width="0.5" stroke-dasharray="1 1.3" opacity="0.3"/>
<line x1="191.8" y1="164.3" x2="113.26" y2="257.48" stroke="#e4ecf2" stroke-width="0.5" stroke-dasharray="1 1.3" opacity="0.3"/>
<line x1="194.2" y1="165.7" x2="152.42" y2="279.98" stroke="#e4ecf2" stroke-width="0.5" stroke-dasharray="1 1.3" opacity="0.3"/>
<line x1="195.6" y1="166.1" x2="174.34" y2="285.83" stroke="#e4ecf2" stroke-width="0.5" stroke-dasharray="1 1.3" opacity="0.3"/>
<line x1="198.3" y1="166.1" x2="219.56" y2="285.83" stroke="#e4ecf2" stroke-width="0.5" stroke-dasharray="1 1.3" opacity="0.3"/>
<line x1="199.7" y1="165.7" x2="241.48" y2="279.98" stroke="#e4ecf2" stroke-width="0.5" stroke-dasharray="1 1.3" opacity="0.3"/>
<line x1="202.1" y1="164.3" x2="280.64" y2="257.48" stroke="#e4ecf2" stroke-width="0.5" stroke-dasharray="1 1.3" opacity="0.3"/>
<line x1="203.1" y1="163.3" x2="296.69" y2="241.51" stroke="#e4ecf2" stroke-width="0.5" stroke-dasharray="1 1.3" opacity="0.3"/>
<line x1="204.5" y1="160.9" x2="319.30" y2="202.53" stroke="#e4ecf2" stroke-width="0.5" stroke-dasharray="1 1.3" opacity="0.3"/>
<line x1="204.8" y1="159.6" x2="325.17" y2="180.70" stroke="#e4ecf2" stroke-width="0.5" stroke-dasharray="1 1.3" opacity="0.3"/>
</g>
<ellipse cx="196.95" cy="158.20" rx="7.66" ry="7.62" fill="none" stroke="#888888" stroke-width="0.65" opacity="0.75"/>
<ellipse cx="196.95" cy="158.20" rx="22.98" ry="22.87" fill="none" stroke="#888888" stroke-width="0.65" opacity="0.75"/>
<ellipse cx="196.95" cy="158.20" rx="38.29" ry="38.12" fill="none" stroke="#888888" stroke-width="0.65" opacity="0.75"/>
<ellipse cx="196.95" cy="158.20" rx="53.61" ry="53.36" fill="none" stroke="#888888" stroke-width="0.65" opacity="0.75"/>
<ellipse cx="196.95" cy="158.20" rx="68.93" ry="68.61" fill="none" stroke="#888888" stroke-width="0.65" opacity="0.75"/>
<ellipse cx="196.95" cy="158.20" rx="84.25" ry="83.86" fill="none" stroke="#888888" stroke-width="0.65" opacity="0.75"/>
<ellipse cx="196.95" cy="158.20" rx="99.56" ry="99.11" fill="none" stroke="#888888" stroke-width="0.65" opacity="0.75"/>
<ellipse cx="196.95" cy="158.20" rx="114.88" ry="114.35" fill="none" stroke="#888888" stroke-width="0.65" opacity="0.75"/>
<line x1="196.9" y1="158.2" x2="327.15" y2="158.20" stroke="#888888" stroke-width="0.65" opacity="0.75"/>
<line x1="196.9" y1="158.2" x2="309.71" y2="93.40" stroke="#888888" stroke-width="0.65" opacity="0.75"/>
<line x1="196.9" y1="158.2" x2="262.05" y2="45.96" stroke="#888888" stroke-width="0.65" opacity="0.75"/>
<line x1="196.9" y1="158.2" x2="196.95" y2="28.60" stroke="#888888" stroke-width="0.65" opacity="0.75"/>
<line x1="196.9" y1="158.2" x2="131.85" y2="45.96" stroke="#888888" stroke-width="0.65" opacity="0.75"/>
<line x1="196.9" y1="158.2" x2="84.19" y2="93.40" stroke="#888888" stroke-width="0.65" opacity="0.75"/>
<line x1="196.9" y1="158.2" x2="66.75" y2="158.20" stroke="#888888" stroke-width="0.65" opacity="0.75"/>
<line x1="196.9" y1="158.2" x2="84.19" y2="223.00" stroke="#888888" stroke-width="0.65" opacity="0.75"/>
<line x1="196.9" y1="158.2" x2="131.85" y2="270.44" stroke="#888888" stroke-width="0.65" opacity="0.75"/>
<line x1="196.9" y1="158.2" x2="196.95" y2="287.80" stroke="#888888" stroke-width="0.65" opacity="0.75"/>
<line x1="196.9" y1="158.2" x2="262.05" y2="270.44" stroke="#888888" stroke-width="0.65" opacity="0.75"/>
<line x1="196.9" y1="158.2" x2="309.71" y2="223.00" stroke="#888888" stroke-width="0.65" opacity="0.75"/>
<text x="164.8" y="36.1" font-size="7.1" text-anchor="middle" fill="#111" stroke="#111" stroke-width="0.1">-0.705</text>
<text x="144.3" y="42.3" font-size="7.1" text-anchor="middle" fill="#111" stroke="#111" stroke-width="0.1">-0.705</text>
<text x="248.6" y="59.1" font-size="7.1" text-anchor="middle" fill="#111" stroke="#111" stroke-width="0.1">-0.605</text>
<text x="140.2" y="66.0" font-size="7.1" text-anchor="middle" fill="#111" stroke="#111" stroke-width="0.1">-0.505</text>
<text x="185.8" y="82.7" font-size="7.1" text-anchor="middle" fill="#111" stroke="#111" stroke-width="0.1">-0.405</text>
<text x="275.0" y="70.2" font-size="7.1" text-anchor="middle" fill="#111" stroke="#111" stroke-width="0.1">-0.305</text>
<text x="252.6" y="81.7" font-size="7.1" text-anchor="middle" fill="#111" stroke="#111" stroke-width="0.1">-0.205</text>
<text x="308.3" y="127.8" font-size="7.1" text-anchor="middle" fill="#111" stroke="#111" stroke-width="0.1">-0.105</text>
<text x="299.2" y="215.6" font-size="7.1" text-anchor="middle" fill="#111" stroke="#111" stroke-width="0.1">-0.00500</text>
<text x="255.3" y="239.8" font-size="7.1" text-anchor="middle" fill="#111" stroke="#111" stroke-width="0.1">0.0950</text>
<text x="233.4" y="236.0" font-size="7.1" text-anchor="middle" fill="#111" stroke="#111" stroke-width="0.1">0.195</text>
<text x="201.2" y="176.5" font-size="7.1" text-anchor="middle" fill="#111" stroke="#111" stroke-width="0.1">0.295</text>
<text x="199.2" y="203.1" font-size="7.1" text-anchor="middle" fill="#111" stroke="#111" stroke-width="0.1">0.395</text>
</g>
<ellipse cx="196.95" cy="158.20" rx="130.2" ry="129.6" fill="none" stroke="#5a6a5a" stroke-width="0.8"/>
<text x="334.5" y="160.3" font-size="9.3" text-anchor="middle" fill="#111" stroke="#111" stroke-width="0.1">0</text>
<text x="318.4" y="89.2" font-size="9.3" text-anchor="middle" fill="#111" stroke="#111" stroke-width="0.1">30</text>
<text x="265.1" y="38.3" font-size="9.3" text-anchor="middle" fill="#111" stroke="#111" stroke-width="0.1">60</text>
<text x="197.0" y="19.3" font-size="9.3" text-anchor="middle" fill="#111" stroke="#111" stroke-width="0.1">90</text>
<text x="125.3" y="38.3" font-size="9.3" text-anchor="middle" fill="#111" stroke="#111" stroke-width="0.1">120</text>
<text x="72.7" y="89.5" font-size="9.3" text-anchor="middle" fill="#111" stroke="#111" stroke-width="0.1">150</text>
<text x="52.6" y="159.9" font-size="9.3" text-anchor="middle" fill="#111" stroke="#111" stroke-width="0.1">180</text>
<text x="72.7" y="231.0" font-size="9.3" text-anchor="middle" fill="#111" stroke="#111" stroke-width="0.1">210</text>
<text x="125.3" y="283.1" font-size="9.3" text-anchor="middle" fill="#111" stroke="#111" stroke-width="0.1">240</text>
<text x="197.2" y="300.6" font-size="9.3" text-anchor="middle" fill="#111" stroke="#111" stroke-width="0.1">270</text>
<text x="268.5" y="282.5" font-size="9.3" text-anchor="middle" fill="#111" stroke="#111" stroke-width="0.1">300</text>
<text x="320.3" y="231.0" font-size="9.3" text-anchor="middle" fill="#111" stroke="#111" stroke-width="0.1">330</text>
<path d="M40.6 28.3 V287.7" stroke="#333" stroke-width="0.8" fill="none"/>
<path d="M38.1 158.00 H40.6" stroke="#333" stroke-width="0.8" fill="none"/>
<path d="M35.8 150.37 H40.6" stroke="#333" stroke-width="0.8" fill="none"/>
<text x="32.9" y="152.77" font-size="9.3" text-anchor="end" fill="#111" stroke="#111" stroke-width="0.1">0.2</text>
<path d="M38.1 142.74 H40.6" stroke="#333" stroke-width="0.8" fill="none"/>
<path d="M35.8 135.11 H40.6" stroke="#333" stroke-width="0.8" fill="none"/>
<text x="32.9" y="137.51" font-size="9.3" text-anchor="end" fill="#111" stroke="#111" stroke-width="0.1">0.3</text>
<path d="M38.1 127.48 H40.6" stroke="#333" stroke-width="0.8" fill="none"/>
<path d="M35.8 119.85 H40.6" stroke="#333" stroke-width="0.8" fill="none"/>
<text x="32.9" y="122.25" font-size="9.3" text-anchor="end" fill="#111" stroke="#111" stroke-width="0.1">0.4</text>
<path d="M38.1 112.22 H40.6" stroke="#333" stroke-width="0.8" fill="none"/>
<path d="M35.8 104.59 H40.6" stroke="#333" stroke-width="0.8" fill="none"/>
<text x="32.9" y="106.99" font-size="9.3" text-anchor="end" fill="#111" stroke="#111" stroke-width="0.1">0.5</text>
<path d="M38.1 96.96 H40.6" stroke="#333" stroke-width="0.8" fill="none"/>
<path d="M35.8 89.34 H40.6" stroke="#333" stroke-width="0.8" fill="none"/>
<text x="32.9" y="91.74" font-size="9.3" text-anchor="end" fill="#111" stroke="#111" stroke-width="0.1">0.6</text>
<path d="M38.1 81.71 H40.6" stroke="#333" stroke-width="0.8" fill="none"/>
<path d="M35.8 74.08 H40.6" stroke="#333" stroke-width="0.8" fill="none"/>
<text x="32.9" y="76.48" font-size="9.3" text-anchor="end" fill="#111" stroke="#111" stroke-width="0.1">0.7</text>
<path d="M38.1 66.45 H40.6" stroke="#333" stroke-width="0.8" fill="none"/>
<path d="M35.8 58.82 H40.6" stroke="#333" stroke-width="0.8" fill="none"/>
<text x="32.9" y="61.22" font-size="9.3" text-anchor="end" fill="#111" stroke="#111" stroke-width="0.1">0.8</text>
<path d="M38.1 51.19 H40.6" stroke="#333" stroke-width="0.8" fill="none"/>
<path d="M35.8 43.56 H40.6" stroke="#333" stroke-width="0.8" fill="none"/>
<text x="32.9" y="45.96" font-size="9.3" text-anchor="end" fill="#111" stroke="#111" stroke-width="0.1">0.9</text>
<path d="M38.1 35.93 H40.6" stroke="#333" stroke-width="0.8" fill="none"/>
<path d="M35.8 28.30 H40.6" stroke="#333" stroke-width="0.8" fill="none"/>
<text x="32.9" y="30.70" font-size="9.3" text-anchor="end" fill="#111" stroke="#111" stroke-width="0.1">1.0</text>
<path d="M35.8 165.63 H40.6" stroke="#333" stroke-width="0.8" fill="none"/>
<text x="32.9" y="168.03" font-size="9.3" text-anchor="end" fill="#111" stroke="#111" stroke-width="0.1">0.2</text>
<path d="M38.1 173.26 H40.6" stroke="#333" stroke-width="0.8" fill="none"/>
<path d="M35.8 180.89 H40.6" stroke="#333" stroke-width="0.8" fill="none"/>
<text x="32.9" y="183.29" font-size="9.3" text-anchor="end" fill="#111" stroke="#111" stroke-width="0.1">0.3</text>
<path d="M38.1 188.52 H40.6" stroke="#333" stroke-width="0.8" fill="none"/>
<path d="M35.8 196.15 H40.6" stroke="#333" stroke-width="0.8" fill="none"/>
<text x="32.9" y="198.55" font-size="9.3" text-anchor="end" fill="#111" stroke="#111" stroke-width="0.1">0.4</text>
<path d="M38.1 203.78 H40.6" stroke="#333" stroke-width="0.8" fill="none"/>
<path d="M35.8 211.41 H40.6" stroke="#333" stroke-width="0.8" fill="none"/>
<text x="32.9" y="213.81" font-size="9.3" text-anchor="end" fill="#111" stroke="#111" stroke-width="0.1">0.5</text>
<path d="M38.1 219.04 H40.6" stroke="#333" stroke-width="0.8" fill="none"/>
<path d="M35.8 226.66 H40.6" stroke="#333" stroke-width="0.8" fill="none"/>
<text x="32.9" y="229.06" font-size="9.3" text-anchor="end" fill="#111" stroke="#111" stroke-width="0.1">0.6</text>
<path d="M38.1 234.29 H40.6" stroke="#333" stroke-width="0.8" fill="none"/>
<path d="M35.8 241.92 H40.6" stroke="#333" stroke-width="0.8" fill="none"/>
<text x="32.9" y="244.32" font-size="9.3" text-anchor="end" fill="#111" stroke="#111" stroke-width="0.1">0.7</text>
<path d="M38.1 249.55 H40.6" stroke="#333" stroke-width="0.8" fill="none"/>
<path d="M35.8 257.18 H40.6" stroke="#333" stroke-width="0.8" fill="none"/>
<text x="32.9" y="259.58" font-size="9.3" text-anchor="end" fill="#111" stroke="#111" stroke-width="0.1">0.8</text>
<path d="M38.1 264.81 H40.6" stroke="#333" stroke-width="0.8" fill="none"/>
<path d="M35.8 272.44 H40.6" stroke="#333" stroke-width="0.8" fill="none"/>
<text x="32.9" y="274.84" font-size="9.3" text-anchor="end" fill="#111" stroke="#111" stroke-width="0.1">0.9</text>
<path d="M38.1 280.07 H40.6" stroke="#333" stroke-width="0.8" fill="none"/>
<path d="M35.8 287.70 H40.6" stroke="#333" stroke-width="0.8" fill="none"/>
<text x="32.9" y="290.10" font-size="9.3" text-anchor="end" fill="#111" stroke="#111" stroke-width="0.1">1.0</text>
<text transform="translate(12 157.2) rotate(-90)" font-size="10.3" text-anchor="middle" fill="#111" stroke="#111" stroke-width="0.1">Rotor radius (r)</text>
<text x="196.5" y="318.5" font-size="10.4" text-anchor="middle" fill="#111" stroke="#111" stroke-width="0.1">Azimuth angle, <tspan font-family="'DejaVu Sans','Liberation Serif',serif" font-size="7.6" dx="0.2" dy="0.9">ψ</tspan><tspan dx="0.3" dy="-0.9"> (deg)</tspan></text>
<rect x="358.2" y="2.75" width="30.8" height="9.00" fill="#b9bdc0"/>
<rect x="358.2" y="11.45" width="30.8" height="9.00" fill="#ee4423"/>
<rect x="358.2" y="20.15" width="30.8" height="9.00" fill="#f16222"/>
<rect x="358.2" y="28.85" width="30.8" height="9.00" fill="#f89b1c"/>
<rect x="358.2" y="37.55" width="30.8" height="9.00" fill="#fddb10"/>
<rect x="358.2" y="46.25" width="30.8" height="9.00" fill="#b6d433"/>
<rect x="358.2" y="54.95" width="30.8" height="9.00" fill="#8dc63f"/>
<rect x="358.2" y="63.65" width="30.8" height="9.00" fill="#6fc045"/>
<rect x="358.2" y="72.35" width="30.8" height="9.00" fill="#74c466"/>
<rect x="358.2" y="81.05" width="30.8" height="9.00" fill="#88cea5"/>
<rect x="358.2" y="89.75" width="30.8" height="9.00" fill="#9ad8db"/>
<rect x="358.2" y="98.45" width="30.8" height="9.00" fill="#2b9bd7"/>
<rect x="358.2" y="107.15" width="30.8" height="9.00" fill="#1a67b2"/>
<rect x="358.2" y="115.85" width="30.8" height="9.00" fill="#0c4ea0"/>
<rect x="358.2" y="124.55" width="30.8" height="8.70" fill="#7f8487"/>
<text x="391.5" y="13.85" font-size="6.7" fill="#111" stroke="#111" stroke-width="0.1">−0.805</text>
<text x="391.5" y="22.55" font-size="6.7" fill="#111" stroke="#111" stroke-width="0.1">−0.705</text>
<text x="391.5" y="31.25" font-size="6.7" fill="#111" stroke="#111" stroke-width="0.1">−0.605</text>
<text x="391.5" y="39.95" font-size="6.7" fill="#111" stroke="#111" stroke-width="0.1">−0.505</text>
<text x="391.5" y="48.65" font-size="6.7" fill="#111" stroke="#111" stroke-width="0.1">−0.405</text>
<text x="391.5" y="57.35" font-size="6.7" fill="#111" stroke="#111" stroke-width="0.1">−0.305</text>
<text x="391.5" y="66.05" font-size="6.7" fill="#111" stroke="#111" stroke-width="0.1">−0.205</text>
<text x="391.5" y="74.75" font-size="6.7" fill="#111" stroke="#111" stroke-width="0.1">−0.105</text>
<text x="391.5" y="83.45" font-size="6.7" fill="#111" stroke="#111" stroke-width="0.1">−0.00500</text>
<text x="391.5" y="92.15" font-size="6.7" fill="#111" stroke="#111" stroke-width="0.1">0.0950</text>
<text x="391.5" y="100.85" font-size="6.7" fill="#111" stroke="#111" stroke-width="0.1">0.195</text>
<text x="391.5" y="109.55" font-size="6.7" fill="#111" stroke="#111" stroke-width="0.1">0.295</text>
<text x="391.5" y="118.25" font-size="6.7" fill="#111" stroke="#111" stroke-width="0.1">0.395</text>
<text x="391.5" y="126.95" font-size="6.7" fill="#111" stroke="#111" stroke-width="0.1">0.405</text>
</svg>
</body></html>
